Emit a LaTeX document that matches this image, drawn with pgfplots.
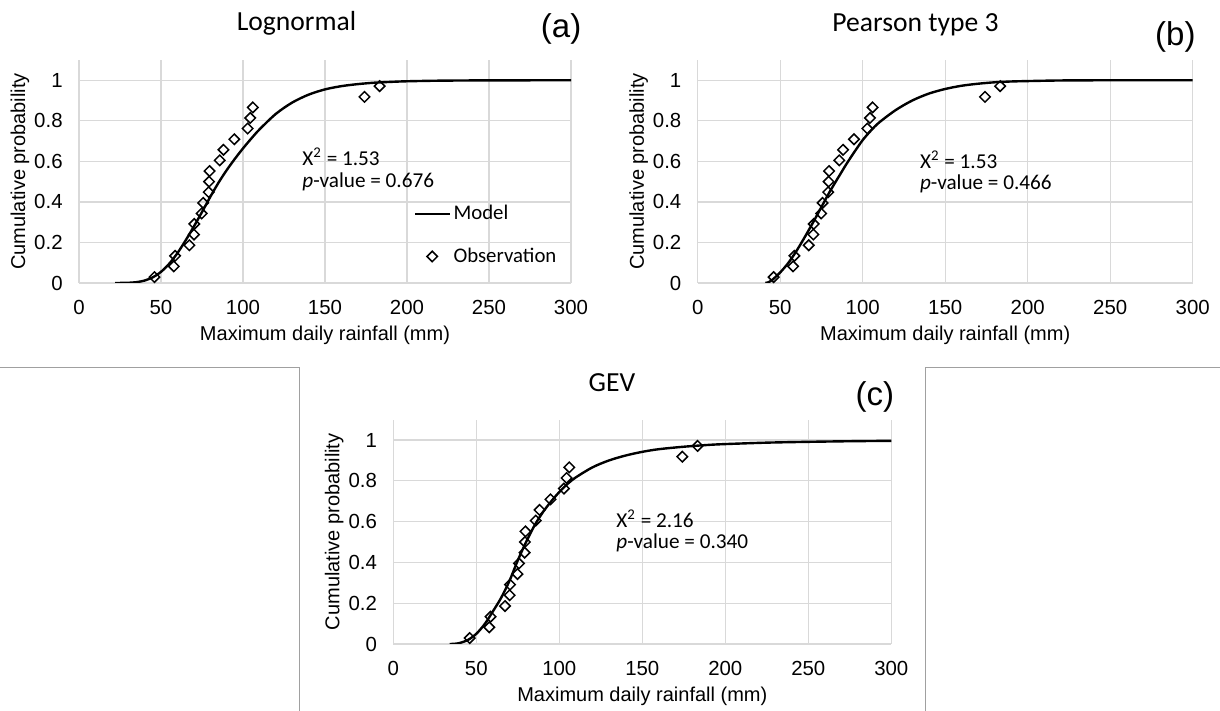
\documentclass[border=0pt]{standalone}
\usepackage{fontspec}
\setmainfont{Liberation Sans}
\newfontfamily\calibri{Carlito}
\usepackage{pgfplots}
\pgfplotsset{compat=1.18}
\usepackage{pgfplotstable}

\definecolor{gridgray}{HTML}{D9D9D9}
\definecolor{framegray}{HTML}{A0A0A0}

% observed maxima with Gringorten plotting positions
\pgfplotstableread{
x y
46.0 0.029
57.8 0.082
58.6 0.134
67.3 0.186
70.1 0.239
70.3 0.291
74.8 0.343
75.7 0.395
79.1 0.448
79.3 0.500
79.6 0.552
85.8 0.605
88.1 0.657
94.7 0.709
102.8 0.762
104.4 0.814
106.0 0.866
174.1 0.918
183.3 0.971
}\obs

\pgfplotstableread{
x y
22 0
25 0.0002
30 0.001
35 0.004
40 0.012
45 0.028
50 0.055
55 0.095
60 0.147
65 0.21
70 0.278
75 0.35
80 0.424
85 0.494
90 0.556
95 0.612
100 0.664
105 0.712
110 0.757
120 0.834
130 0.89
140 0.929
150 0.955
160 0.971
170 0.981
180 0.988
190 0.992
200 0.995
220 0.998
250 0.9995
300 1.0
}\lognorm

\pgfplotstableread{
x y
41 0
43 0.004
45 0.014
50 0.052
55 0.100
60 0.160
65 0.228
70 0.300
75 0.375
80 0.450
85 0.518
90 0.585
95 0.647
100 0.705
105 0.752
110 0.792
120 0.853
130 0.900
140 0.934
150 0.957
160 0.973
170 0.983
180 0.990
190 0.994
200 0.996
220 0.999
250 1.0
300 1.0
}\pearson

\pgfplotstableread{
x y
34 0
37 0.001
40 0.005
45 0.02
50 0.05
55 0.097
60 0.16
65 0.227
70 0.31
75 0.41
80 0.5
85 0.58
90 0.645
95 0.698
100 0.745
105 0.785
110 0.817
120 0.866
130 0.9
140 0.924
150 0.942
160 0.955
175 0.967
190 0.976
200 0.98
225 0.987
250 0.991
275 0.994
300 0.996
}\gev

\tikzset{
  note/.style={anchor=west, font=\calibri\fontsize{10.6}{12}\selectfont, inner sep=0pt},
  panel/.style={font=\fontsize{16.5}{18}\selectfont},
}

\pgfplotsset{
  cdfaxis/.style={
    scale only axis,
    anchor=south west,
    xmin=0, xmax=300, ymin=0, ymax=1.1,
    xtick={0,50,...,300},
    ytick={0,0.2,0.4,0.6,0.8,1},
    yticklabels={0,0.2,0.4,0.6,0.8,1},
    grid=major,
    grid style={gridgray, line width=0.6pt},
    axis line style={draw=none},
    major tick length=0pt,
    /pgf/number format/assume math mode=true,
    tick label style={font=\fontsize{10.2}{12}\selectfont},
    xticklabel style={anchor=north, inner sep=0pt, yshift=-8.3pt},
    yticklabel style={anchor=east, inner sep=0pt, xshift=-8pt},
    xlabel={Maximum daily rainfall (mm)},
    ylabel={Cumulative probability},
    label style={font=\fontsize{11}{13}\selectfont},
    every axis x label/.style={at={(rel axis cs:0.5,0)}, anchor=center, yshift=-26pt},
    every axis y label/.style={at={(rel axis cs:0,0.5)}, xshift=-29.5pt, rotate=90, anchor=center},
    title style={font=\calibri\fontsize{13.8}{15}\selectfont, anchor=center},
    clip mode=individual,
  },
  model/.style={black, line width=1.2pt, smooth, no marks},
  observed/.style={only marks, mark=square, mark size=1.85pt,
    mark options={black, line width=0.75pt, rotate=45, fill=none}},
}

\begin{document}
\begin{tikzpicture}
\useasboundingbox (0,0) rectangle (610pt,355.5pt);

% frame around the lower panel
\draw[framegray, line width=0.5pt] (0,171.5pt) -- (149.5pt,171.5pt) -- (149.5pt,0);
\draw[framegray, line width=0.5pt] (610pt,171.5pt) -- (462.5pt,171.5pt) -- (462.5pt,0);

% (a) Lognormal
\begin{axis}[cdfaxis,
  at={(39.5pt,214pt)}, width=246pt, height=111.5pt,
  title={Lognormal},
  title style={at={(rel axis cs:0.442,1)}, yshift=12.5pt},
  legend style={at={(axis cs:204,0.40)}, anchor=north west, draw=none, fill=none,
    inner sep=0pt, row sep=9.5pt, font=\calibri\fontsize{10.4}{12}\selectfont,
    nodes={inner sep=1.5pt}},
  legend cell align=left]
\addplot[model] table {\lognorm};
\addlegendentry{Model}
\addplot[observed] table {\obs};
\addlegendentry{Observation}
\node[note] at (axis cs:136,0.622) {X\textsuperscript{2} = 1.53};
\node[note] at (axis cs:136,0.50) {\textit{p}-value = 0.676};
\node[panel] at (rel axis cs:0.98,1) [yshift=15.5pt] {(a)};
\end{axis}

% (b) Pearson type 3
\begin{axis}[cdfaxis,
  at={(348.85pt,214pt)}, width=247.5pt, height=111.5pt,
  title={Pearson type 3},
  title style={at={(rel axis cs:0.44,1)}, yshift=11.5pt}]
\addplot[model] table {\pearson};
\addplot[observed] table {\obs};
\node[note] at (axis cs:134.5,0.61) {X\textsuperscript{2} = 1.53};
\node[note] at (axis cs:134.5,0.49) {\textit{p}-value = 0.466};
\node[panel] at (rel axis cs:0.965,1) [yshift=11.3pt] {(b)};
\end{axis}

% (c) GEV
\begin{axis}[cdfaxis,
  at={(196.65pt,33.5pt)}, width=249pt, height=112.2pt,
  title={GEV},
  title style={at={(rel axis cs:0.439,1)}, yshift=12.3pt}]
\addplot[model] table {\gev};
\addplot[observed] table {\obs};
\node[note] at (axis cs:134.2,0.616) {X\textsuperscript{2} = 2.16};
\node[note] at (axis cs:134.2,0.494) {\textit{p}-value = 0.340};
\node[panel] at (rel axis cs:0.967,1) [yshift=11.3pt] {(c)};
\end{axis}
\end{tikzpicture}
\end{document}
